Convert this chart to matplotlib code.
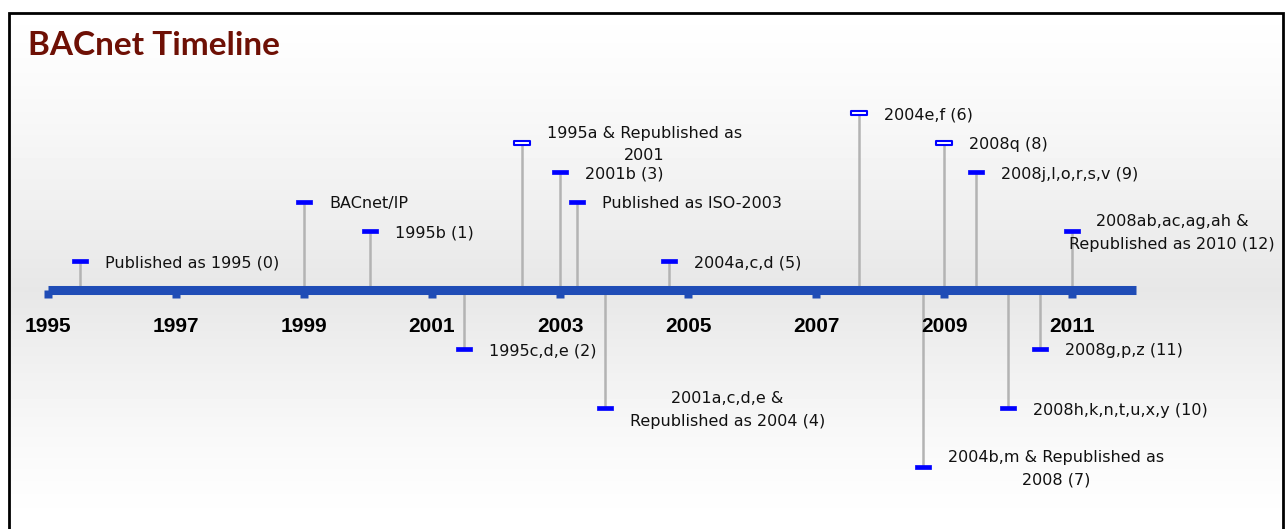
# BACnet timeline chart

import numpy as np
import matplotlib
matplotlib.use("Agg")
import matplotlib.pyplot as plt
from matplotlib.patches import Rectangle
from matplotlib.path import Path

# Dados
event_years = [1995.5, 1999.0, 2000.03, 2001.5, 2002.4, 2003.0, 2003.27, 2003.7,
               2004.7, 2007.67, 2008.67, 2009.0, 2009.5, 2010.0, 2010.5, 2011.0]
event_levels = [1, 3, 2, -2, 5, 4, 3, -4, 1, 6, -6, 5, 4, -4, -2, 2]
event_labels = [
    "Published as 1995 (0)",
    "BACnet/IP",
    "1995b (1)",
    "1995c,d,e (2)",
    "1995a & Republished as\n2001",
    "2001b (3)",
    "Published as ISO-2003",
    "2001a,c,d,e &\nRepublished as 2004 (4)",
    "2004a,c,d (5)",
    "2004e,f (6)",
    "2004b,m & Republished as\n2008 (7)",
    "2008q (8)",
    "2008j,l,o,r,s,v (9)",
    "2008h,k,n,t,u,x,y (10)",
    "2008g,p,z (11)",
    "2008ab,ac,ag,ah &\nRepublished as 2010 (12)",
]
event_hollow = [False, False, False, False, True, False, False, False,
                False, True, False, True, False, False, False, False]
tick_years = list(range(1995, 2012, 2))
axis_start, axis_end = 1995, 2012

# Estilos
W, H = 1285, 529
px_per_year = 64.0
px_per_level = 29.5
axis_px_x, axis_px_y = 48, 290
frame_right = 1283
line_blue = "#1f4cb6"
mark_blue = "#0000ff"
stem_grey = "#b3b3b3"

fig = plt.figure(figsize=(W / 100, H / 100), dpi=100)

# fundo em degradê dentro da moldura
bg = fig.add_axes([0, 0, 1, 1], zorder=0)
bg.set_axis_off()
rows = np.linspace(0, 1, H)
peak = axis_px_y / H
shade = np.where(rows < peak, rows / peak, 1 - (rows - peak) / (1 - peak))
col = 1.0 - 0.095 * shade ** 1.3
grad = np.tile(col[:, None], (1, W))
bg.imshow(grad, cmap="gray", vmin=0, vmax=1, aspect="auto",
          extent=[0, W, H, 0], interpolation="bilinear")
bg.set_xlim(0, W)
bg.set_ylim(H, 0)
bg.add_patch(Rectangle((0, 0), 9, H, color="white", zorder=2))
bg.add_patch(Rectangle((0, 0), W, 13, color="white", zorder=2))
bg.add_patch(Rectangle((frame_right, 0), 2, H, color="white", zorder=2))
bg.plot([9, 9, frame_right, frame_right], [H + 5, 13, 13, H + 5], color="black",
        lw=2, zorder=3, solid_joinstyle="miter")

ax = fig.add_axes([0, 0, 1, 1], zorder=1)
ax.patch.set_alpha(0)
ax.set_axis_off()
ax.set_xlim(1995 - axis_px_x / px_per_year, 1995 + (W - axis_px_x) / px_per_year)
ax.set_ylim(-(H - axis_px_y) / px_per_level, axis_px_y / px_per_level)

# hastes
ax.vlines(event_years, 0, event_levels, color=stem_grey, lw=1.8, zorder=1)

# linha do tempo
ax.hlines(0, axis_start, axis_end, color=line_blue, lw=6.5, zorder=2)
ax.plot(tick_years, [-0.12] * len(tick_years), "s", ms=5.5, color=line_blue,
        mec="none", zorder=2)

for yr in tick_years:
    ax.annotate(str(yr), (yr, 0), xytext=(0, -36), textcoords="offset pixels",
                ha="center", va="center", fontsize=15, fontweight="bold",
                family="Liberation Sans", color="black")

# marcadores
dash = Path([(-1, -0.25), (1, -0.25), (1, 0.25), (-1, 0.25), (-1, -0.25)],
            [Path.MOVETO, Path.LINETO, Path.LINETO, Path.LINETO, Path.CLOSEPOLY])
texts = []
for yr, lv, lab, hol in zip(event_years, event_levels, event_labels, event_hollow):
    if hol:
        ax.plot(yr, lv, marker=dash, ms=11, mfc="white", mec=mark_blue,
                mew=1.5, zorder=3)
    else:
        ax.plot(yr, lv, marker=dash, ms=11, mfc=mark_blue, mec=mark_blue,
                mew=0.5, zorder=3)
    t = ax.annotate(lab, (yr, lv), xytext=(25, -2), textcoords="offset pixels",
                    ha="left", va="center", multialignment="center",
                    fontsize=11.5, family="DejaVu Sans", color="#111111",
                    linespacing=1.6, zorder=4)
    texts.append(t)

fig.text(28 / W, 1 - 46 / H, "BACnet Timeline", ha="left", va="center",
         fontsize=24, fontweight="bold", family="Lato", color="#6e1005")

# rótulos que passam da moldura são puxados para dentro
fig.canvas.draw()
renderer = fig.canvas.get_renderer()
for t in texts:
    bb = t.get_window_extent(renderer)
    over = bb.x1 - (frame_right - 8)
    if over > 0:
        dx, dy = t.xyann
        t.xyann = (dx - over, dy)

fig.savefig("out.png", dpi=100)
